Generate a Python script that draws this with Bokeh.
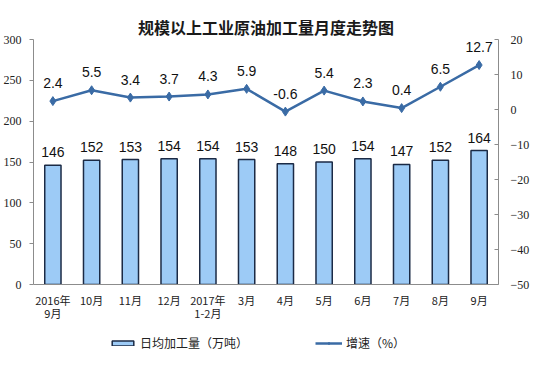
from bokeh.plotting import figure
from bokeh.layouts import column
from bokeh.models import (FactorRange, Range1d, LinearAxis, FixedTicker, ColumnDataSource,
                          LabelSet, Legend, LegendItem)
from bokeh.core.properties import value
from bokeh.embed import file_html
from bokeh.resources import INLINE

title_text = "规模以上工业原油加工量月度走势图"
months = ["2016年\n9月", "10月", "11月", "12月", "2017年\n1-2月", "3月", "4月",
          "5月", "6月", "7月", "8月", "9月"]
output = [146, 152, 153, 154, 154, 153, 148, 150, 154, 147, 152, 164]
growth = [2.4, 5.5, 3.4, 3.7, 4.3, 5.9, -0.6, 5.4, 2.3, 0.4, 6.5, 12.7]
left_ticks = [0, 50, 100, 150, 200, 250, 300]
right_ticks = [-50, -40, -30, -20, -10, 0, 10, 20]
bar_name = "日均加工量（万吨）"
line_name = "增速（%）"

CJK = "Noto Sans CJK SC"
BAR_FILL = "#9DCBF6"
BAR_LINE = "#1B2A45"
LINE_COL = "#3A6BA5"
AXIS_COL = "#8C8C8C"
BL, BR = 33, 40

src = ColumnDataSource(dict(
    m=months, out=output, gr=growth,
    out_txt=[str(v) for v in output],
    gr_txt=[f"{v:.1f}" for v in growth],
))

p = figure(width=538, height=324, x_range=FactorRange(*months), y_range=Range1d(0, 300),
           output_backend="svg", toolbar_location=None,
           min_border_left=BL, min_border_right=BR, min_border_top=39, min_border_bottom=37)
p.extra_y_ranges = {"r": Range1d(-50, 20)}
p.outline_line_color = None
p.xgrid.grid_line_color = None
p.ygrid.grid_line_color = None

p.title.text = title_text
p.title.align = "center"
p.title.text_font = CJK
p.title.text_font_size = "16px"
p.title.text_font_style = "bold"
p.title.text_color = "#1a1a1a"
p.title.standoff = 2

def draw_series(fig, yname=None, visible=True):
    kw = {} if yname is None else {"y_range_name": yname}
    b = fig.vbar(x="m", top="out", width=0.42, source=src, fill_color=BAR_FILL,
                 line_color=BAR_LINE, line_width=1.5, visible=visible)
    l = fig.line(x="m", y="gr", source=src, line_color=LINE_COL, line_width=2.5,
                 visible=visible, **kw)
    s = fig.scatter(x="m", y="gr", source=src, marker="diamond", size=9,
                    fill_color=LINE_COL, line_color=LINE_COL, visible=visible, **kw)
    return b, l, s

bars, ln, pts = draw_series(p, "r")

# axes
p.yaxis.ticker = FixedTicker(ticks=left_ticks)
p.yaxis.axis_line_color = AXIS_COL
p.yaxis.major_tick_line_color = AXIS_COL
p.yaxis.major_tick_out = 4
p.yaxis.major_tick_in = 0
p.yaxis.minor_tick_line_color = None
p.yaxis.major_label_standoff = 8
p.yaxis.major_label_text_font = "Liberation Serif"
p.yaxis.major_label_text_font_size = "12px"
p.yaxis.major_label_text_color = "#222222"

ra = LinearAxis(y_range_name="r", ticker=FixedTicker(ticks=right_ticks))
ra.axis_line_color = AXIS_COL
ra.major_tick_line_color = AXIS_COL
ra.major_tick_out = 0
ra.major_tick_in = 4
ra.minor_tick_line_color = None
ra.major_label_standoff = 12
ra.major_label_text_font = "Liberation Serif"
ra.major_label_text_font_size = "12px"
ra.major_label_text_color = "#222222"
p.add_layout(ra, "right")

p.xaxis.axis_line_color = AXIS_COL
p.xaxis.major_tick_line_color = None
p.xaxis.major_label_standoff = 1
p.xaxis.major_label_text_font = CJK
p.xaxis.major_label_text_font_size = "11px"
p.xaxis.major_label_text_color = "#222222"
p.xaxis.major_label_text_line_height = 0.85

# data labels
p.add_layout(LabelSet(x="m", y="out", text="out_txt", source=src, y_offset=13,
                      text_align="center", text_baseline="middle",
                      text_font=value("Liberation Sans"), text_font_size="14px",
                      text_color="#111111"))
p.add_layout(LabelSet(x="m", y="gr", text="gr_txt", source=src, y_range_name="r",
                      y_offset=18, text_align="center", text_baseline="middle",
                      text_font=value("Liberation Sans"), text_font_size="14px",
                      text_color="#111111"))

# legend strip (hidden copies of the series; only the legend shows)
q = figure(width=538, height=36, x_range=p.x_range, y_range=Range1d(0, 300),
           output_backend="svg", toolbar_location=None,
           min_border_left=BL, min_border_right=BR, min_border_top=0, min_border_bottom=0)
q.axis.visible = False
q.grid.grid_line_color = None
q.outline_line_color = None
qb, ql, qs = draw_series(q, visible=False)

legend = Legend(items=[LegendItem(label=bar_name, renderers=[qb]),
                       LegendItem(label=line_name, renderers=[ql, qs])],
                location=(76, 9), orientation="horizontal", spacing=67,
                padding=0, margin=0, border_line_color=None, background_fill_alpha=0,
                inactive_fill_alpha=0,
                glyph_width=27, glyph_height=6, label_height=14, label_standoff=4,
                label_text_font=CJK, label_text_font_size="12px", label_text_color="#222222")
q.add_layout(legend, "center")

layout = column(p, q, spacing=0)
open("out.html", "w").write(file_html(layout, INLINE))
